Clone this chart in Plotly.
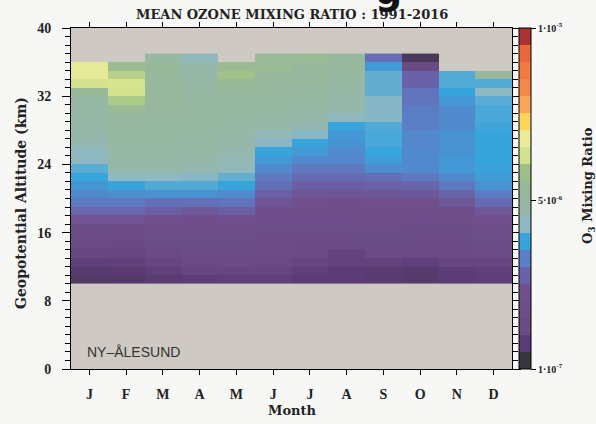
import numpy as np
import plotly.graph_objects as go

# Month labels and altitude grid (1-km layers starting at 10 km)
months = ["J", "F", "M", "A", "M", "J", "J", "A", "S", "O", "N", "D"]
base_km = 10

# Monthly mean O3 mixing ratio in ppmv, one value per 1-km layer from 10-11 km upward
jan = [0.69, 0.79, 0.94, 1.24, 1.39, 1.54, 1.68, 2.43, 2.92, 3.22, 3.47, 3.61, 3.81,
       4.01, 4.31, 4.36, 4.65, 4.75, 4.80, 4.85, 4.90, 4.95, 5.45, 6.34, 6.63, 6.68]
feb = [0.72, 0.81, 0.99, 1.19, 1.29, 1.54, 1.59, 2.43, 2.92, 3.22, 3.52, 3.81, 4.31,
       4.75, 4.85, 4.95, 5.05, 5.10, 5.15, 5.25, 5.50, 5.94, 6.34, 6.39, 6.04, 5.50]
mar = [0.82, 0.99, 1.21, 1.39, 1.59, 1.83, 1.98, 2.33, 2.72, 3.07, 3.57, 3.96, 4.31,
       4.75, 4.85, 4.95, 5.05, 5.10, 5.15, 5.15, 5.20, 5.20, 5.20, 5.25, 5.30, 5.30, 5.10]
apr = [0.89, 1.19, 1.39, 1.63, 1.68, 1.88, 1.98, 2.23, 2.58, 3.07, 3.57, 3.96, 4.26,
       4.65, 4.75, 4.85, 4.95, 5.05, 5.10, 5.10, 5.10, 5.05, 5.00, 4.95, 4.85, 4.75, 4.41]
may = [0.99, 1.21, 1.44, 1.63, 1.68, 1.88, 1.98, 2.33, 2.72, 3.12, 3.47, 3.81, 4.06,
       4.46, 4.56, 4.65, 4.75, 4.85, 4.95, 5.05, 5.10, 5.15, 5.20, 5.45, 5.84, 5.50]
jun = [0.99, 1.19, 1.34, 1.54, 1.59, 1.73, 1.83, 2.03, 2.23, 2.48, 2.77, 3.07, 3.22,
       3.47, 3.66, 3.81, 4.26, 4.56, 4.75, 4.90, 5.05, 5.15, 5.20, 5.25, 5.30, 5.50, 5.45]
jul = [0.84, 0.99, 1.19, 1.44, 1.49, 1.73, 1.83, 2.03, 2.08, 2.28, 2.48, 2.72, 2.97,
       3.22, 3.47, 3.66, 3.81, 4.26, 4.65, 4.80, 4.95, 5.05, 5.15, 5.20, 5.30, 5.30, 5.50]
aug = [0.84, 0.84, 1.04, 1.09, 1.44, 1.73, 1.83, 2.03, 2.08, 2.23, 2.48, 2.72, 2.97,
       3.22, 3.42, 3.47, 3.57, 3.66, 3.81, 4.36, 4.70, 4.80, 4.90, 5.00, 5.10, 5.20, 5.25]
sep = [0.79, 0.82, 1.09, 1.44, 1.49, 1.78, 1.83, 2.08, 2.08, 2.28, 2.53, 2.82, 3.07,
       3.52, 3.71, 3.81, 3.91, 3.91, 3.96, 4.26, 4.26, 4.26, 4.06, 4.06, 4.06, 3.66, 3.02]
oct = [0.74, 0.77, 0.99, 1.39, 1.39, 1.73, 1.78, 2.03, 2.08, 2.28, 2.58, 2.87, 3.22,
       3.47, 3.47, 3.47, 3.42, 3.42, 3.32, 3.32, 3.27, 3.12, 3.12, 2.82, 2.82, 1.49, 0.60]
nov = [0.84, 0.87, 1.19, 1.44, 1.49, 1.73, 1.78, 2.13, 2.18, 2.53, 2.87, 3.22, 3.47,
       3.66, 3.66, 3.57, 3.57, 3.57, 3.47, 3.47, 3.49, 3.66, 3.81, 3.96, 3.96]
dec = [0.94, 0.97, 1.19, 1.54, 1.59, 1.88, 1.93, 2.28, 2.58, 2.97, 3.27, 3.57, 3.71,
       3.76, 3.81, 3.81, 3.81, 3.81, 3.86, 3.91, 3.91, 4.01, 4.31, 3.96, 5.25]

# Colour levels of the scale, lowest to highest
level_colors = ["#38363c", "#5c3c76", "#6a4a82", "#6c4e88", "#704f8c",
                "#6a62a8", "#5b7fc6", "#38a4dc", "#8fb8c2", "#96b8a8",
                "#98b89c", "#9cc088", "#d2e290", "#eaec98", "#fcd45c",
                "#f8a858", "#f48848", "#f07a44", "#e8683e", "#aa3232"]
z_min, z_max = 1e-7, 1e-5
cbar_vals = [1e-7, 5e-6, 1e-5]
cbar_text = ["1·10<sup>-7</sup>", "5·10<sup>-6</sup>", "1·10<sup>-5</sup>"]

profiles = [jan, feb, mar, apr, may, jun, jul, aug, sep, oct, nov, dec]
n_rows = max(len(p) for p in profiles)
z = np.full((n_rows, 12), np.nan)
for j, p in enumerate(profiles):
    z[:len(p), j] = np.array(p) * 1e-6
alt_mid = base_km + 0.5 + np.arange(n_rows)

n = len(level_colors)
smooth_scale = [[0.0, level_colors[0]]]
for k, c in enumerate(level_colors):
    smooth_scale.append([(k + 0.5) / n, c])
smooth_scale.append([1.0, level_colors[-1]])

step_scale = []
for k, c in enumerate(level_colors):
    step_scale.append([k / n, c])
    step_scale.append([(k + 1) / n, c])

SERIF = "Liberation Serif"
WIDE_SERIF = "DejaVu Serif"
INK = "#222222"

fig = go.Figure()
fig.add_trace(go.Heatmap(
    x=np.arange(1, 13), y=alt_mid, z=z,
    colorscale=smooth_scale, zmin=z_min, zmax=z_max,
    showscale=False, hoverongaps=False,
))
# stepped scale shown in the colour bar
fig.add_trace(go.Heatmap(
    x=[20, 21], y=[60, 61], z=[[z_min, z_max]],
    colorscale=step_scale, zmin=z_min, zmax=z_max,
    hoverinfo="skip",
    colorbar=dict(
        x=(519 - 71) / 441, xanchor="left", xpad=0,
        y=0.5, yanchor="middle", len=1, lenmode="fraction", ypad=0,
        thickness=12, thicknessmode="pixels",
        outlinecolor="black", outlinewidth=1,
        tickvals=cbar_vals, ticktext=cbar_text,
        ticks="outside", ticklen=5, tickcolor="black",
        tickfont=dict(family=SERIF, size=10, color=INK, weight="bold"),
    ),
))

fig.update_layout(
    width=596, height=424,
    margin=dict(l=71, r=84, t=28, b=55),
    paper_bgcolor="#f7f7f5",
    plot_bgcolor="#cfc9c4",
    showlegend=False,
    xaxis=dict(
        range=[0.5, 12.5], tickvals=list(range(1, 13)), ticktext=months,
        ticks="outside", ticklen=5, tickcolor="black",
        showline=True, linecolor="black", linewidth=1, mirror="ticks",
        showgrid=False, zeroline=False, ticklabelstandoff=7,
        tickfont=dict(family=SERIF, size=14, color=INK, weight="bold"),
    ),
    yaxis=dict(
        range=[0, 40], tickvals=[0, 8, 16, 24, 32, 40],
        ticks="outside", ticklen=8, tickcolor="black",
        minor=dict(dtick=1, ticks="outside", ticklen=5, tickcolor="black"),
        showline=True, linecolor="black", linewidth=1, mirror="ticks",
        showgrid=False, zeroline=False, ticklabelstandoff=8,
        tickfont=dict(family=SERIF, size=14, color=INK, weight="bold"),
    ),
)

def px_x(px):
    return (px - 71) / 441

def px_y(py):
    return (369 - py) / 341

fig.add_annotation(text="MEAN OZONE MIXING RATIO : 1991-2016",
                   x=px_x(292), y=px_y(14), xref="paper", yref="paper",
                   showarrow=False, xanchor="center", yanchor="middle",
                   font=dict(family=WIDE_SERIF, size=13, color=INK, weight="bold"))
fig.add_annotation(text="g", x=px_x(388), y=px_y(-9), xref="paper", yref="paper",
                   showarrow=False, xanchor="center", yanchor="middle",
                   font=dict(family="DejaVu Sans", size=38, color="#111111", weight="bold"))
fig.add_annotation(text="Geopotential Altitude (km)",
                   x=px_x(21), y=px_y(203), xref="paper", yref="paper",
                   showarrow=False, textangle=-90, xanchor="center", yanchor="middle",
                   font=dict(family=WIDE_SERIF, size=14, color=INK, weight="bold"))
fig.add_annotation(text="Month", x=px_x(292), y=px_y(411), xref="paper", yref="paper",
                   showarrow=False, xanchor="center", yanchor="middle",
                   font=dict(family=WIDE_SERIF, size=13, color=INK, weight="bold"))
fig.add_annotation(text="O<sub>3</sub> Mixing Ratio",
                   x=px_x(588), y=px_y(186), xref="paper", yref="paper",
                   showarrow=False, textangle=-90, xanchor="center", yanchor="middle",
                   font=dict(family=WIDE_SERIF, size=13, color=INK, weight="bold"))
fig.add_annotation(text="NY–ÅLESUND", x=px_x(85), y=px_y(352), xref="paper", yref="paper",
                   showarrow=False, xanchor="left", yanchor="middle",
                   font=dict(family="Liberation Sans", size=14, color="#333333"))

fig.write_html("out.html")
